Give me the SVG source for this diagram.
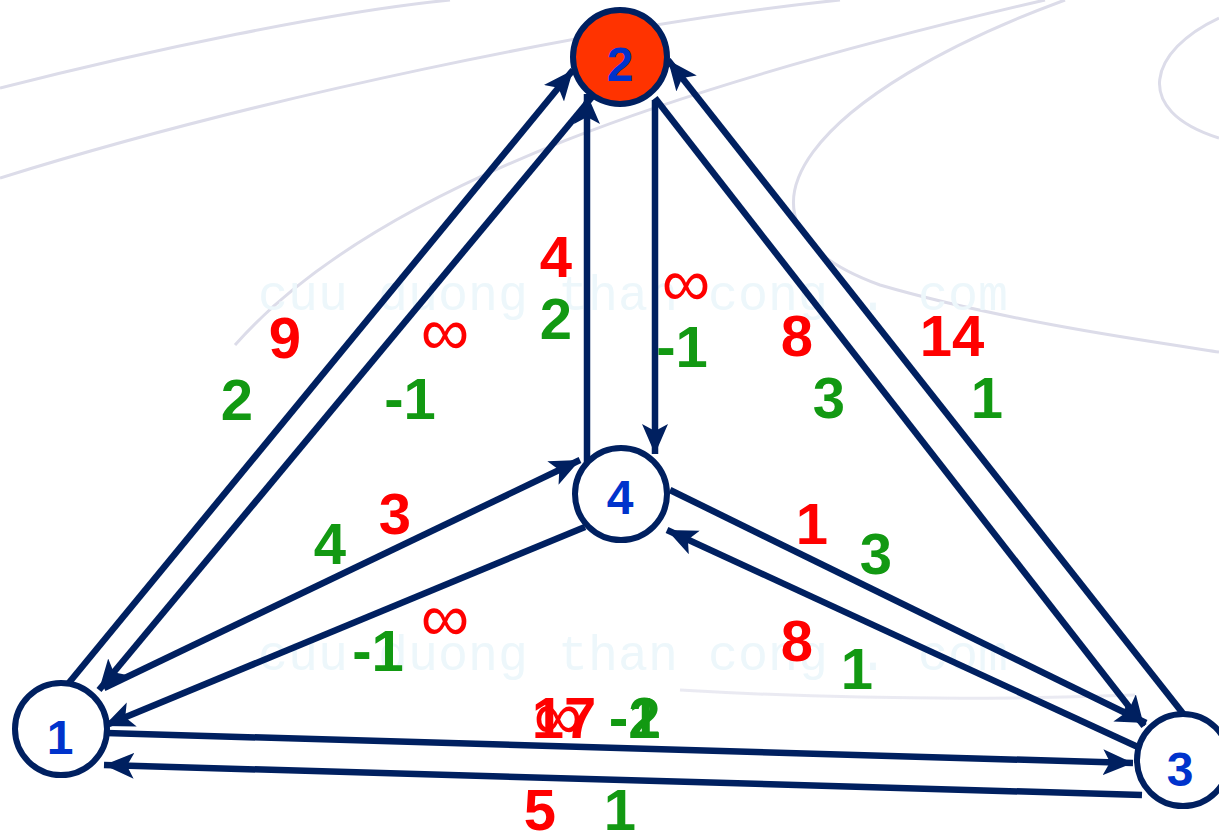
<svg xmlns="http://www.w3.org/2000/svg" width="1219" height="840" viewBox="0 0 1219 840">
<style>
.bg{fill:none;stroke:#dcdce9;stroke-width:3}
.wm{font-family:"Liberation Mono",monospace;font-size:50px;fill:#edf7fb}
.e{stroke:#002060;stroke-width:6.5;fill:none;marker-end:url(#ah)}
.n{stroke:#002060;stroke-width:6;fill:#ffffff}
.nl{font-family:"Liberation Sans",Arial,sans-serif;font-weight:bold;font-size:48px;fill:#0033cc;text-anchor:middle}
.r,.g{font-family:"Liberation Sans",Arial,sans-serif;font-weight:bold;font-size:58px;text-anchor:middle}
.r{fill:#ff0000}
.g{fill:#129912}
.inf{font-family:"Liberation Sans",Arial,sans-serif;font-size:68px;fill:#ff0000;text-anchor:middle}
</style>
<defs>
<marker id="ah" markerUnits="userSpaceOnUse" markerWidth="32" markerHeight="30" refX="30" refY="15" orient="auto">
<path d="M0,2 L30,15 L0,28 L7,15 Z" fill="#002060"/>
</marker>
</defs>
<rect width="1219" height="840" fill="#ffffff"/>
<g id="background">
<path class="bg" d="M0,88 C150,50 330,12 450,0"/>
<path class="bg" d="M0,178 C250,100 600,25 840,0"/>
<path class="bg" d="M1045,0 C700,80 380,180 235,345"/>
<path class="bg" d="M1219,18 C1150,50 1130,110 1219,138"/>
<path class="bg" d="M1065,0 C820,90 700,220 880,285 C1000,320 1140,340 1219,352"/>
<path class="bg" d="M680,690 C850,700 1000,700 1135,695" opacity="0.6"/>
<text class="wm" x="258" y="310">cuu duong than cong . com</text>
<text class="wm" x="258" y="670">cuu duong than cong . com</text>
</g>
<g id="connectors">
<line class="e" x1="63" y1="690" x2="573" y2="70"/>
<line class="e" x1="592" y1="97" x2="99" y2="690"/>
<line class="e" x1="587" y1="462" x2="587" y2="94"/>
<line class="e" x1="655" y1="100" x2="655" y2="454"/>
<line class="e" x1="655" y1="98" x2="1144" y2="726"/>
<line class="e" x1="1185" y1="716" x2="668" y2="60"/>
<line class="e" x1="104" y1="688" x2="580" y2="460"/>
<line class="e" x1="585" y1="527" x2="104" y2="726"/>
<line class="e" x1="670" y1="490" x2="1146" y2="723"/>
<line class="e" x1="1140" y1="748" x2="667" y2="530"/>
<line class="e" x1="106" y1="733" x2="1133" y2="763"/>
<line class="e" x1="1142" y1="795" x2="104" y2="765"/>
</g>
<g id="node2"><circle class="n" cx="620" cy="57" r="47" style="fill:#ff3300"/><text class="nl" x="620" y="81">2</text></g>
<g id="node1"><circle class="n" cx="61" cy="729" r="46"/><text class="nl" x="60" y="754">1</text></g>
<g id="node4"><circle class="n" cx="621" cy="494" r="46"/><text class="nl" x="620" y="514">4</text></g>
<g id="node3"><circle class="n" cx="1183" cy="760" r="46"/><text class="nl" x="1180" y="786">3</text></g>
<g id="labels">
<text class="r" x="285" y="358">9</text>
<text class="g" x="237" y="420">2</text>
<text class="inf" x="445" y="355">∞</text>
<text class="g" x="410" y="419">-1</text>
<text class="r" x="556" y="277">4</text>
<text class="g" x="556" y="339">2</text>
<text class="inf" x="686" y="306">∞</text>
<text class="g" x="682" y="367">-1</text>
<text class="r" x="797" y="356">8</text>
<text class="g" x="829" y="418">3</text>
<text class="r" x="952" y="356">14</text>
<text class="g" x="987" y="418">1</text>
<text class="r" x="395" y="534">3</text>
<text class="g" x="330" y="564">4</text>
<text class="inf" x="445" y="641">∞</text>
<text class="g" x="378" y="671">-1</text>
<text class="r" x="812" y="544">1</text>
<text class="g" x="876" y="574">3</text>
<text class="r" x="797" y="661">8</text>
<text class="g" x="857" y="689">1</text>
<text class="inf" x="558" y="739">∞</text>
<text class="r" x="564" y="738">17</text>
<text class="g" x="609" y="738" style="text-anchor:start">-2</text>
<text class="g" x="609" y="738" style="text-anchor:start">-1</text>
<text class="r" x="540" y="830">5</text>
<text class="g" x="620" y="830">1</text>
</g>
</svg>
